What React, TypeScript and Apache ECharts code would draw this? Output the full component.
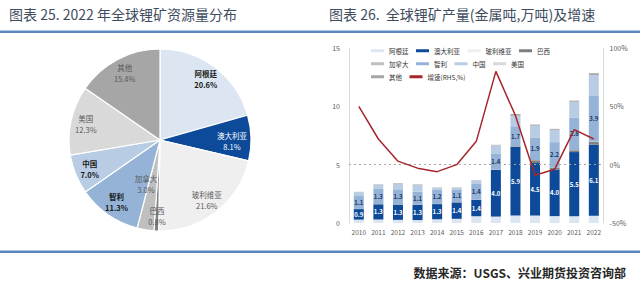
import React, { useEffect, useRef } from 'react';
import * as echarts from 'echarts';

// ---------- data ----------
const countries = ['阿根廷', '澳大利亚', '玻利维亚', '巴西', '加拿大', '智利', '中国', '美国', '其他'];
const resourceShare = [20.6, 8.1, 21.6, 0.8, 3.0, 11.3, 7.0, 12.3, 15.4];

const years = ['2010', '2011', '2012', '2013', '2014', '2015', '2016', '2017', '2018', '2019', '2020', '2021', '2022'];
const prodArgentina = [0.29, 0.3, 0.27, 0.25, 0.32, 0.36, 0.58, 0.55, 0.64, 0.64, 0.59, 0.58, 0.62];
const prodAustralia = [0.9, 1.3, 1.3, 1.3, 1.3, 1.4, 1.4, 4.0, 5.9, 4.5, 4.0, 5.5, 6.1];
const prodBolivia = [0, 0, 0, 0, 0, 0, 0, 0, 0, 0, 0, 0, 0];
const prodBrazil = [0.02, 0.02, 0.02, 0.03, 0.02, 0.02, 0.02, 0.02, 0.03, 0.24, 0.14, 0.15, 0.22];
const prodCanada = [0, 0, 0, 0, 0, 0, 0, 0, 0.02, 0.02, 0, 0, 0.05];
const prodChile = [1.1, 1.3, 1.3, 1.1, 1.2, 1.1, 1.4, 1.4, 1.7, 1.9, 2.2, 2.8, 3.9];
const prodChina = [0.33, 0.34, 0.47, 0.57, 0.17, 0.13, 0.24, 0.68, 0.91, 1.04, 1.06, 1.36, 1.8];
const prodUSA = [0, 0, 0, 0, 0, 0, 0, 0, 0, 0, 0, 0, 0];
const prodOther = [0.03, 0.04, 0.05, 0.05, 0.03, 0.03, 0.03, 0.05, 0.15, 0.1, 0.08, 0.1, 0.15];
const growthPct = [50, 22, 3, -3, -6, 0, 20, 80, 42, -9, -4, 30, 22];
const growthName = '增速(RHS,%)';

const prodSeries = [prodArgentina, prodAustralia, prodBolivia, prodBrazil, prodCanada, prodChile, prodChina, prodUSA, prodOther];

// ---------- styles ----------
const palette = ['#dce6f2', '#0d4a9a', '#efefef', '#7f7f7f', '#bfbfbf', '#95b3d7', '#b8cce4', '#d9d9d9', '#a6a6a6'];
const FONT = "'Noto Sans CJK SC', 'Noto Sans', sans-serif";

const pieLabelStyle = (name: string) => {
  if (name === '澳大利亚') return { color: '#ffffff', fontWeight: 'normal' };
  if (name === '阿根廷' || name === '智利' || name === '中国') return { color: '#1a1a1a', fontWeight: 'bold' };
  return { color: '#595959', fontWeight: 'normal' };
};

export default function App() {
  const ref = useRef<HTMLDivElement>(null);

  useEffect(() => {
    document.body.style.margin = '0';
    if (!ref.current) return;
    const chart = echarts.init(ref.current, null, { renderer: 'svg' });

    const pieData = countries.map((name, i) => ({ name, value: resourceShare[i] }));
    const pieLabelData = countries.map((name, i) => ({
      name,
      value: resourceShare[i],
      label: pieLabelStyle(name),
    }));

    const barSeries = countries.map((name, i) => {
      let label: any = { show: false };
      if (name === '澳大利亚') {
        label = { show: true, position: 'inside', color: '#ffffff', fontSize: 6, fontWeight: 'bold', fontFamily: FONT, formatter: (p: any) => Number(p.value).toFixed(1) };
      } else if (name === '智利') {
        label = { show: true, position: 'inside', color: '#1f3864', fontSize: 6, fontWeight: 'bold', fontFamily: FONT, formatter: (p: any) => Number(p.value).toFixed(1) };
      }
      return {
        type: 'bar',
        name,
        stack: 'prod',
        data: prodSeries[i],
        barWidth: 10,
        itemStyle: { color: palette[i] },
        label,
        xAxisIndex: 0,
        yAxisIndex: 0,
      };
    });

    const legendRows = [countries.slice(0, 4), countries.slice(4, 8), [countries[8], growthName]];

    const option: any = {
      animation: false,
      textStyle: { fontFamily: FONT },
      color: [...palette, '#a8262b'],
      graphic: [
        { type: 'text', x: 9, y: 14, style: { text: '图表 25. 2022 年全球锂矿资源量分布', fontSize: 14, fill: '#3e4c5e', verticalAlign: 'middle', fontFamily: FONT } },
        { type: 'text', x: 329, y: 14, style: { text: '图表 26.  全球锂矿产量(金属吨,万吨)及增速', fontSize: 14, fill: '#3e4c5e', verticalAlign: 'middle', fontFamily: FONT } },
        { type: 'rect', shape: { x: 0, y: 30.5, width: 640, height: 2.5 }, style: { fill: '#5b87be' } },
        { type: 'rect', shape: { x: 0, y: 250.5, width: 640, height: 2.5 }, style: { fill: '#5b87be' } },
        { type: 'text', x: 626, y: 272, style: { text: '数据来源：USGS、兴业期货投资咨询部', fontSize: 12, fontWeight: 'bold', fill: '#262626', align: 'right', verticalAlign: 'middle', fontFamily: FONT } },
      ],
      legend: legendRows.map((row, i) => ({
        data: row,
        left: 371,
        top: 47.5 + i * 13,
        orient: 'horizontal',
        icon: 'rect',
        itemWidth: 13,
        itemHeight: 3,
        itemGap: 7.5,
        padding: 0,
        selectedMode: false,
        textStyle: { fontSize: 6.5, color: '#333333', width: 30, fontFamily: FONT },
      })),
      grid: { left: 349, right: 36.4, top: 48, bottom: 60, containLabel: false },
      xAxis: {
        type: 'category',
        data: years,
        axisLine: { show: false },
        axisTick: { show: false },
        axisLabel: { fontSize: 6.5, color: '#595959', margin: 6, interval: 0, fontFamily: FONT },
      },
      yAxis: [
        {
          type: 'value', min: 0, max: 15, interval: 5,
          axisLine: { show: true, lineStyle: { color: '#d9d9d9' } },
          axisTick: { show: false },
          splitLine: { show: false },
          axisLabel: { fontSize: 7, color: '#595959', margin: 9, fontFamily: FONT },
        },
        {
          type: 'value', min: -50, max: 100, interval: 50, position: 'right',
          axisLine: { show: true, lineStyle: { color: '#d9d9d9' } },
          axisTick: { show: false },
          splitLine: { show: false },
          axisLabel: { fontSize: 7, color: '#595959', margin: 6, formatter: '{value}%', fontFamily: FONT },
        },
      ],
      series: [
        {
          type: 'pie',
          name: 'resource',
          center: [160, 140],
          radius: [0, 91],
          startAngle: 90,
          clockwise: true,
          data: pieData,
          label: { show: false },
          labelLine: { show: false },
          itemStyle: { borderColor: '#ffffff', borderWidth: 1.2 },
          emphasis: { disabled: true },
        },
        {
          type: 'pie',
          name: 'resourceLabels',
          center: [160, 140],
          radius: [55, 91],
          startAngle: 90,
          clockwise: true,
          silent: true,
          data: pieLabelData,
          itemStyle: { color: 'rgba(0,0,0,0)' },
          label: {
            show: true,
            position: 'inside',
            fontSize: 7.5,
            lineHeight: 11,
            fontFamily: FONT,
            formatter: (p: any) => `${p.name}\n${Number(p.value).toFixed(1)}%`,
          },
          labelLayout: (p: any) => (p.dataIndex === 4 ? { dx: -2, dy: -31 } : p.dataIndex === 1 ? { dx: -4, dy: 3 } : {}),
          labelLine: { show: false },
          emphasis: { disabled: true },
        },
        ...barSeries,
        {
          type: 'line',
          name: growthName,
          data: growthPct,
          xAxisIndex: 0,
          yAxisIndex: 1,
          symbol: 'none',
          z: 5,
          lineStyle: { color: '#a8262b', width: 1.5 },
          itemStyle: { color: '#a8262b' },
          markLine: {
            silent: true,
            symbol: 'none',
            label: { show: false },
            lineStyle: { color: '#a6a6a6', type: [2, 3], width: 1 },
            data: [{ yAxis: 0 }],
          },
        },
      ],
    };

    chart.setOption(option);
    return () => chart.dispose();
  }, []);

  return <div ref={ref} style={{ width: 640, height: 283 }} />;
}
